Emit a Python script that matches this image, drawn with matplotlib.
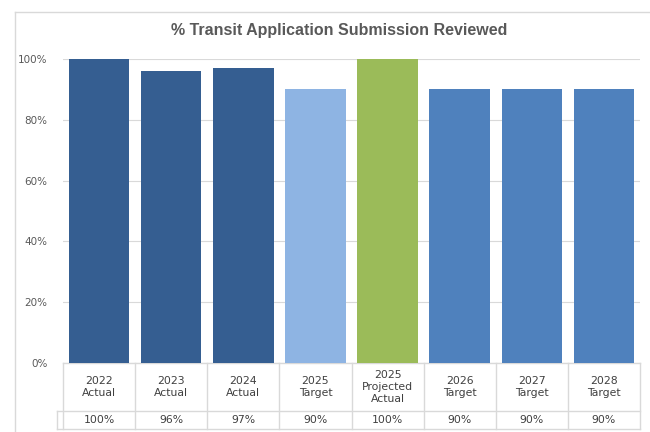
import matplotlib.pyplot as plt
from matplotlib.transforms import blended_transform_factory

# data
categories = ["2022\nActual", "2023\nActual", "2024\nActual", "2025\nTarget",
              "2025\nProjected\nActual", "2026\nTarget", "2027\nTarget", "2028\nTarget"]
values = [100, 96, 97, 90, 100, 90, 90, 90]
value_labels = ["100%", "96%", "97%", "90%", "100%", "90%", "90%", "90%"]
bar_colors = ["#355E91", "#355E91", "#355E91", "#8EB4E3", "#9BBB59",
              "#4F81BD", "#4F81BD", "#4F81BD"]

W, H = 650, 432
fig = plt.figure(figsize=(W / 100, H / 100), dpi=100)

# outer chart frame (only left and top edges are inside the picture)
fig.add_artist(plt.Line2D([15 / W, 15 / W], [0, 1 - 12 / H], color="#D9D9D9",
                          linewidth=1, transform=fig.transFigure))
fig.add_artist(plt.Line2D([15 / W, 1], [1 - 12 / H, 1 - 12 / H], color="#D9D9D9",
                          linewidth=1, transform=fig.transFigure))

left, right, top, bottom = 63, 640, 59, 363
ax = fig.add_axes([left / W, (H - bottom) / H, (right - left) / W, (bottom - top) / H])

x = range(len(values))
ax.bar(x, values, width=0.84, color=bar_colors, zorder=3)
ax.set_xlim(-0.5, len(values) - 0.5)
ax.set_ylim(0, 100)
ax.set_yticks([0, 20, 40, 60, 80, 100])
ax.set_yticklabels(["0%", "20%", "40%", "60%", "80%", "100%"])
ax.tick_params(axis="y", length=0, pad=11, labelsize=7.5, labelcolor="#595959")
ax.set_xticks([])
ax.grid(axis="y", color="#D9D9D9", linewidth=0.8, zorder=0)
for s in ax.spines.values():
    s.set_visible(False)

fig.text(339 / W, 1 - 31 / H, "% Transit Application Submission Reviewed",
         ha="center", va="center", fontsize=11.5, fontweight="bold", color="#595959",
         family=["Liberation Sans Narrow", "Liberation Sans", "DejaVu Sans"])

# data table under the axes
tr = blended_transform_factory(ax.transData, ax.transAxes)
ph = bottom - top
r1 = -(411 - bottom) / ph
r2 = -(429 - bottom) / ph
line_kw = dict(color="#D9D9D9", linewidth=1, transform=tr, clip_on=False)
n = len(values)
ax.plot([-0.5, n - 0.5], [0, 0], **line_kw)
ax.plot([-0.58, n - 0.5], [r1, r1], **line_kw)
ax.plot([-0.58, n - 0.5], [r2, r2], **line_kw)
for i in range(n + 1):
    ax.plot([i - 0.5, i - 0.5], [0, r2], **line_kw)
ax.plot([-0.58, -0.58], [r1, r2], **line_kw)
for i in range(n):
    ax.text(i, r1 / 2, categories[i], transform=tr, ha="center", va="center",
            fontsize=7.8, color="#404040", linespacing=1.25)
    ax.text(i, (r1 + r2) / 2, value_labels[i], transform=tr, ha="center",
            va="center", fontsize=7.8, color="#404040")

fig.savefig("out.png", dpi=100)
